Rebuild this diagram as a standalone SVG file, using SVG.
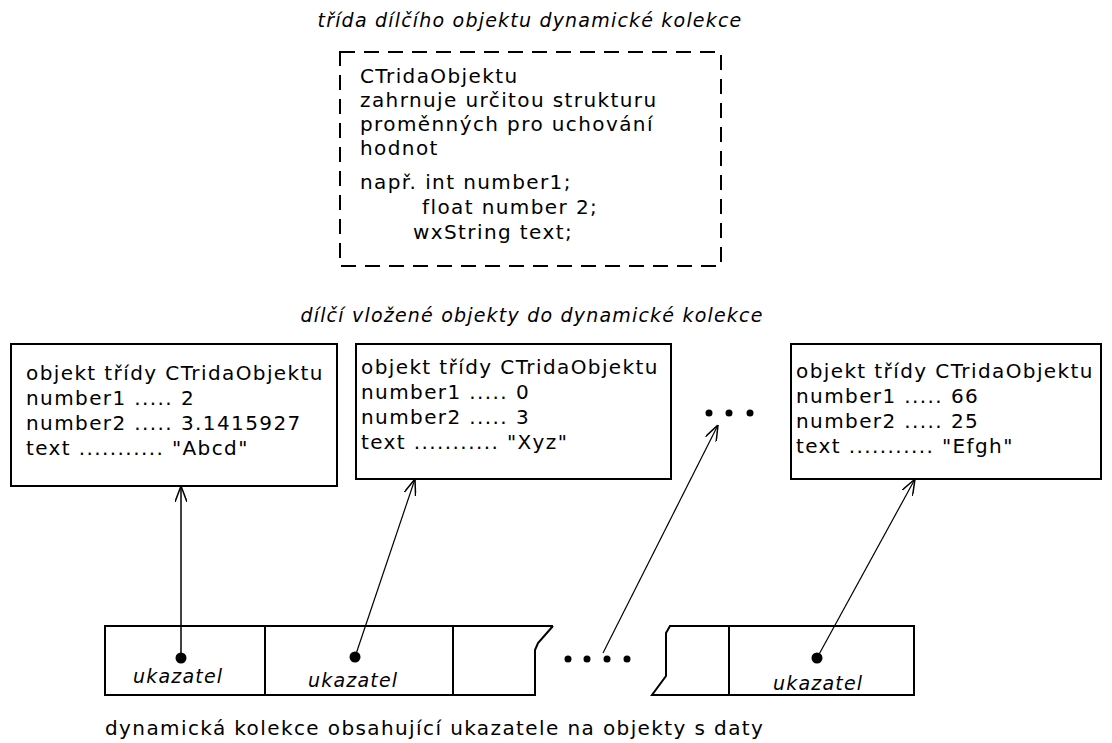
<svg xmlns="http://www.w3.org/2000/svg" width="1112" height="743" viewBox="0 0 1112 743">
<style>
.t{font-family:"DejaVu Sans",Verdana,sans-serif;font-size:20px;letter-spacing:1.4px;fill:#000}
.i{font-family:"DejaVu Sans",Verdana,sans-serif;font-size:19px;font-style:italic;letter-spacing:1.2px;fill:#000}
.box{fill:#fff;stroke:#000;stroke-width:2}
.dash{fill:none;stroke:#000;stroke-width:2;stroke-dasharray:15 9}
.arr{fill:none;stroke:#000;stroke-width:1.5;marker-end:url(#ah)}
.arr2{fill:none;stroke:#000;stroke-width:1.2;marker-end:url(#ah)}
</style>
<defs>
<marker id="ah" viewBox="0 0 16 12" refX="16" refY="6" markerWidth="16" markerHeight="12" markerUnits="userSpaceOnUse" orient="auto">
<path d="M0,0 L16,6 L0,12" fill="none" stroke="#000" stroke-width="1.5"/>
</marker>
</defs>
<rect width="1112" height="743" fill="#fff"/>

<text class="i" x="530" y="27" text-anchor="middle">třída dílčího objektu dynamické kolekce</text>

<g id="class-box">
<rect class="dash" x="340" y="52" width="381" height="214"/>
<text class="t" x="360" y="83">CTridaObjektu</text>
<text class="t" x="360" y="107">zahrnuje určitou strukturu</text>
<text class="t" x="360" y="131">proměnných pro uchování</text>
<text class="t" x="360" y="155">hodnot</text>
<text class="t" x="360" y="189">např. int number1;</text>
<text class="t" x="422" y="214">float number 2;</text>
<text class="t" x="413" y="239">wxString text;</text>
</g>

<text class="i" x="532" y="322" text-anchor="middle">dílčí vložené objekty do dynamické kolekce</text>

<g id="obj1">
<rect class="box" x="11" y="344" width="326" height="142"/>
<text class="t" x="26" y="380">objekt třídy CTridaObjektu</text>
<text class="t" x="26" y="405">number1 ..... 2</text>
<text class="t" x="26" y="430">number2 ..... 3.1415927</text>
<text class="t" x="26" y="455">text ........... "Abcd"</text>
</g>

<g id="obj2">
<rect class="box" x="356" y="344" width="315" height="135"/>
<text class="t" x="361" y="374">objekt třídy CTridaObjektu</text>
<text class="t" x="361" y="399">number1 ..... 0</text>
<text class="t" x="361" y="424">number2 ..... 3</text>
<text class="t" x="361" y="449">text ........... "Xyz"</text>
</g>

<g id="ellipsis-top">
<circle cx="709" cy="413" r="3.5"/>
<circle cx="729" cy="413" r="3.5"/>
<circle cx="750" cy="413" r="3.5"/>
</g>

<g id="obj3">
<rect class="box" x="791" y="344" width="310" height="135"/>
<text class="t" x="796" y="378">objekt třídy CTridaObjektu</text>
<text class="t" x="796" y="403">number1 ..... 66</text>
<text class="t" x="796" y="428">number2 ..... 25</text>
<text class="t" x="796" y="453">text ........... "Efgh"</text>
</g>

<g id="array-left">
<path d="M553,626 L105,626 L105,695 L535,695 L535,650 L538,643 Z" fill="#fff" stroke="none"/>
<path d="M553,626 L105,626 L105,695 L535,695 L535,650 L538,643 L553,626" fill="none" stroke="#000" stroke-width="2"/>
<line x1="265" y1="626" x2="265" y2="695" stroke="#000" stroke-width="2"/>
<line x1="453" y1="626" x2="453" y2="695" stroke="#000" stroke-width="2"/>
<text class="i" x="133" y="683">ukazatel</text>
<text class="i" x="308" y="687">ukazatel</text>
</g>

<g id="ellipsis-bottom">
<circle cx="568" cy="659" r="3.5"/>
<circle cx="587" cy="659" r="3.5"/>
<circle cx="607" cy="659" r="3.5"/>
<circle cx="627" cy="659" r="3.5"/>
</g>

<g id="array-right">
<path d="M670,626 L914,626 L914,695 L652,695 L666,676 L666,633 Z" fill="none" stroke="#000" stroke-width="2"/>
<line x1="729" y1="626" x2="729" y2="695" stroke="#000" stroke-width="2"/>
<text class="i" x="773" y="690">ukazatel</text>
</g>

<g id="connectors">
<line class="arr" x1="181" y1="658" x2="181" y2="486"/>
<line class="arr2" x1="355" y1="657" x2="415" y2="479"/>
<line class="arr2" x1="603" y1="653" x2="718" y2="425"/>
<line class="arr2" x1="817" y1="658" x2="915" y2="479"/>
<circle cx="181" cy="658" r="5.5"/>
<circle cx="355" cy="657" r="5.5"/>
<circle cx="817" cy="658" r="5.5"/>
</g>

<text class="t" x="105" y="735">dynamická kolekce obsahující ukazatele na objekty s daty</text>
</svg>
